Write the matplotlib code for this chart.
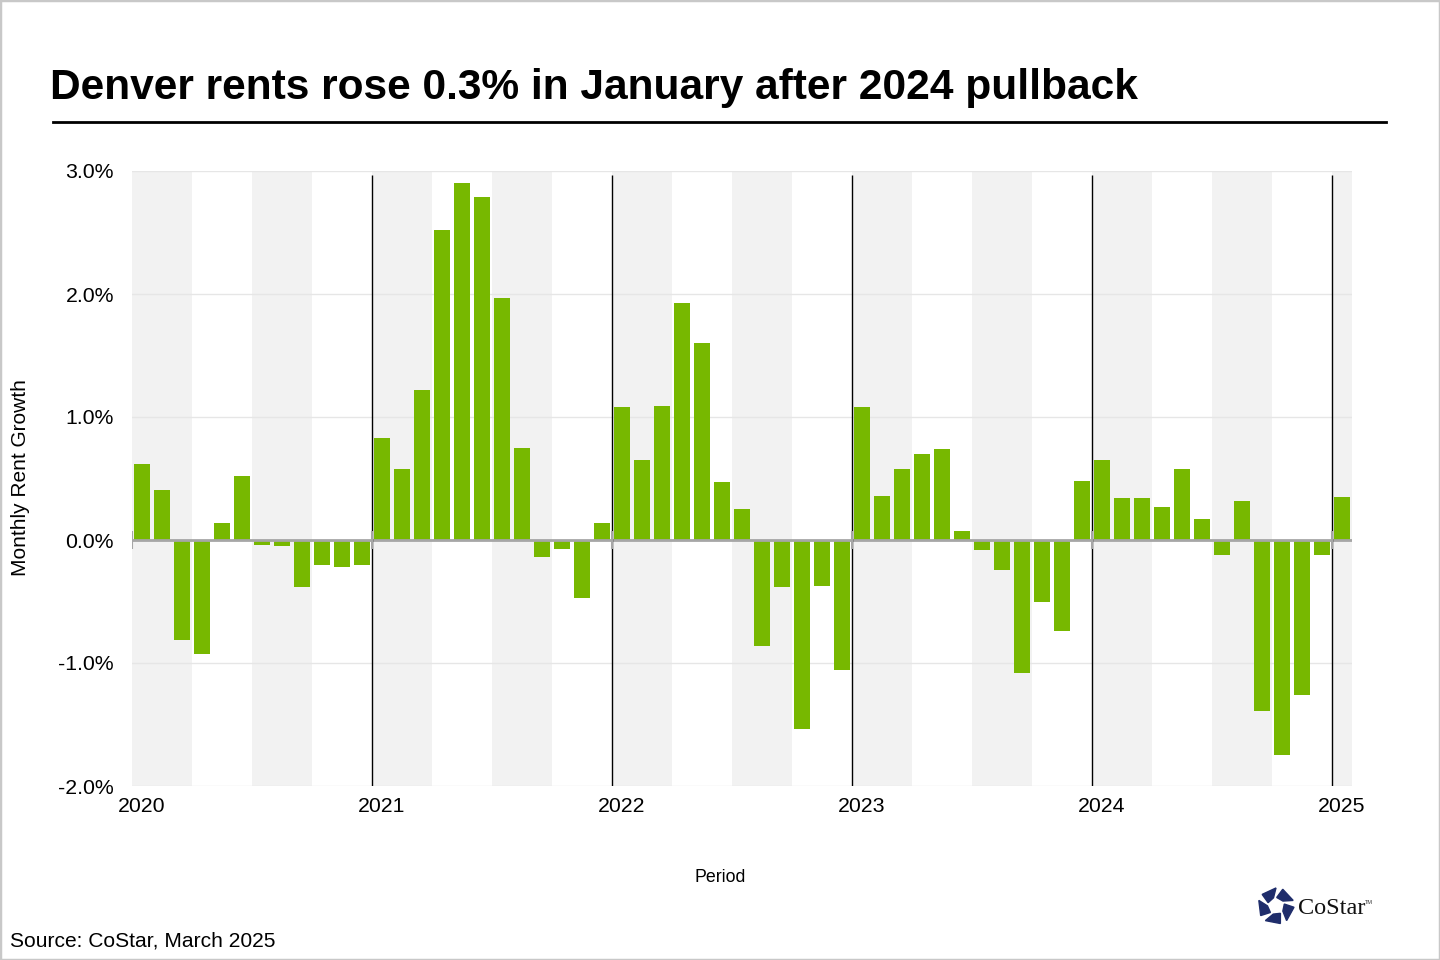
import numpy as np
import matplotlib.pyplot as plt
from matplotlib.patches import Polygon, Rectangle

plt.rcParams['font.family'] = ['Liberation Sans', 'DejaVu Sans']

# monthly rent growth, Jan 2020 .. Jan 2025 (percent)
growth_2020 = [0.62, 0.41, -0.81, -0.93, 0.14, 0.52, -0.04, -0.05, -0.38, -0.20, -0.22, -0.20]
growth_2021 = [0.83, 0.58, 1.22, 2.52, 2.90, 2.79, 1.97, 0.75, -0.14, -0.07, -0.47, 0.14]
growth_2022 = [1.08, 0.65, 1.09, 1.93, 1.60, 0.47, 0.25, -0.86, -0.38, -1.54, -0.37, -1.06]
growth_2023 = [1.08, 0.36, 0.58, 0.70, 0.74, 0.07, -0.08, -0.24, -1.08, -0.50, -0.74, 0.48]
growth_2024 = [0.65, 0.34, 0.34, 0.27, 0.58, 0.17, -0.12, 0.32, -1.39, -1.75, -1.26, -0.12]
growth_2025 = [0.35]
growth = growth_2020 + growth_2021 + growth_2022 + growth_2023 + growth_2024 + growth_2025

years = ['2020', '2021', '2022', '2023', '2024', '2025']
yticks = [-2, -1, 0, 1, 2, 3]

n = len(growth)
x = np.arange(n)

fig = plt.figure(figsize=(14.4, 9.6), dpi=100)
W, H = 1440, 960

def fx(px):
    return px / W

def fy(py):
    return 1 - py / H

ax = fig.add_axes([fx(132), fy(786), fx(1352) - fx(132), fy(171) - fy(786)])
ax.set_xlim(-0.5, n - 0.5)
ax.set_ylim(-2, 3)

# quarter bands (Q1 and Q3 shaded)
for q in range(0, n, 3):
    if (q // 3) % 2 == 0:
        ax.axvspan(q - 0.5, min(q + 2.5, n - 0.5), color='#f2f2f2', lw=0, zorder=0)

for v in yticks:
    ax.axhline(v, color='#e6e6e6', lw=1, zorder=1)

ax.bar(x, growth, width=0.8, color='#77b800', zorder=3)

ax.axhline(0, color='#a6a6a6', lw=2, zorder=4)

# year separators
for i in range(12, n, 12):
    ax.vlines(i - 0.5, -2, 2.97, color='black', lw=1, zorder=5)
for i in range(0, n, 12):
    ax.vlines(i - 0.5, -0.07, 0.07, color='#a6a6a6', lw=1.5, zorder=5)

ax.set_yticks(yticks)
ax.set_yticklabels(['%.1f%%' % v for v in yticks], fontsize=15.3)
ax.set_xticks(x[::12])
ax.set_xticklabels(years, fontsize=15.3)
ax.tick_params(axis='x', length=0, pad=8)
ax.tick_params(axis='y', length=0, pad=13)
for s in ax.spines.values():
    s.set_visible(False)

fig.text(fx(21), fy(478), 'Monthly Rent Growth', fontsize=15, rotation=90,
         ha='center', va='center')
fig.text(fx(720), fy(877), 'Period', fontsize=12.8, ha='center', va='center')

fig.text(fx(50), fy(88), 'Denver rents rose 0.3% in January after 2024 pullback',
         fontsize=30.6, fontweight='bold', ha='left', va='center')
fig.add_artist(plt.Line2D([fx(53), fx(1386)], [fy(122), fy(122)], color='black', lw=2))

fig.text(fx(10), fy(941), 'Source: CoStar, March 2025', fontsize=15.1, ha='left', va='center')

# CoStar logo
lax = fig.add_axes([fx(1257), fy(925), fx(1295) - fx(1257), fy(887) - fy(925)])
lax.set_xlim(-1, 1)
lax.set_ylim(-1, 1)
lax.set_aspect('equal')
lax.axis('off')
for k in range(5):
    a0 = np.deg2rad(90 + 72 * k)
    a1 = np.deg2rad(90 + 72 * k + 50)
    pts = [(0.95 * np.cos(a0), 0.95 * np.sin(a0)),
           (0.95 * np.cos(a1), 0.95 * np.sin(a1)),
           (0.45 * np.cos(a1 + 0.3), 0.45 * np.sin(a1 + 0.3)),
           (0.45 * np.cos(a0 + 0.3), 0.45 * np.sin(a0 + 0.3))]
    lax.add_patch(Polygon(pts, closed=True, color='#1f2d6b'))
fig.text(fx(1298), fy(908), 'CoStar', fontsize=17.5, family='Liberation Serif',
         color='#111111', ha='left', va='center')
fig.text(fx(1365), fy(902), 'TM', fontsize=4, color='#333333', ha='left', va='center')

# outer frame
fig.add_artist(Rectangle((0, 0), 1, 1, transform=fig.transFigure, fill=False,
                         edgecolor='#c8c8c8', lw=2.5))

fig.savefig('out.png', dpi=100)
